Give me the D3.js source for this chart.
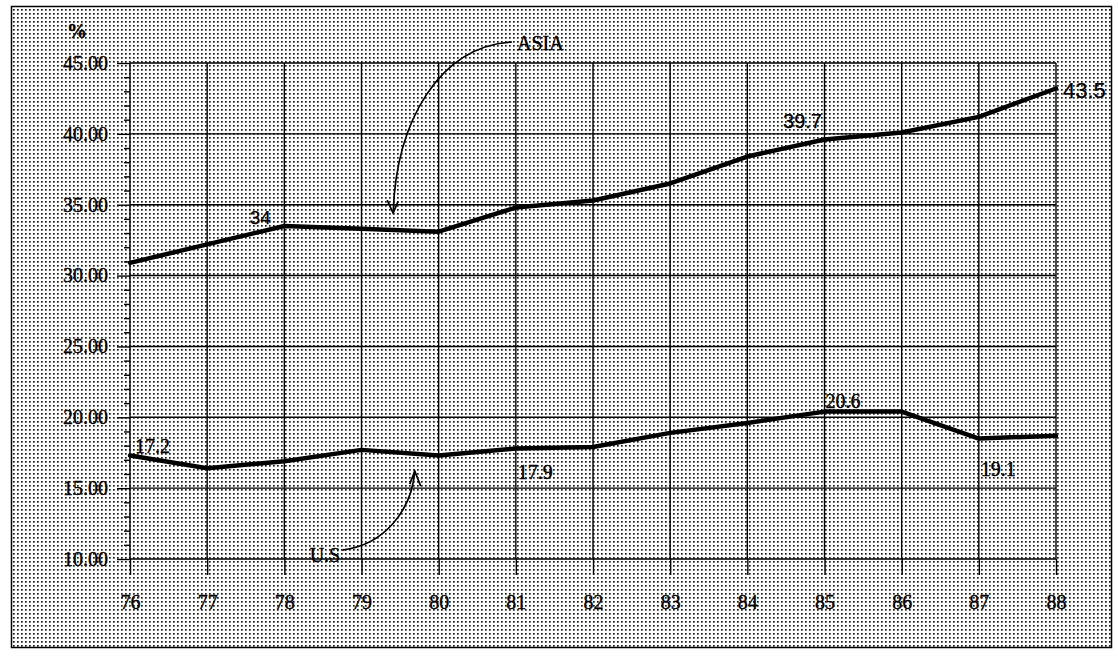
<!DOCTYPE html>
<meta charset="utf-8" />
<style>
  body {
    margin: 0;
    background: #fff;
  }
  svg {
    display: block;
  }
  .grid line {
    stroke: #000;
    stroke-width: 1.4;
  }
  .axis path {
    display: none;
  }
  .axis line {
    stroke: #000;
    stroke-width: 1.4;
  }
  .axis text,
  .serif {
    font-family: "Liberation Serif", "Times New Roman", serif;
    font-size: 20px;
    fill: #000;
    stroke: #000;
    stroke-width: 0.35;
  }
  .sans {
    font-family: "Liberation Sans", Arial, sans-serif;
    fill: #000;
    stroke: #000;
    stroke-width: 0.25;
  }
  .series {
    fill: none;
    stroke: #000;
    stroke-width: 4.5;
    stroke-linejoin: round;
    stroke-linecap: round;
  }
  .arrow {
    fill: none;
    stroke: #000;
    stroke-width: 1.7;
  }
</style>
<body>
  <div id="chart"></div>
  <script src="https://d3js.org/d3.v7.min.js"></script>
  <script>
    // values
    const years = [76, 77, 78, 79, 80, 81, 82, 83, 84, 85, 86, 87, 88];
    const asia = [30.9, 32.2, 33.5, 33.3, 33.1, 34.8, 35.3, 36.5, 38.4, 39.6, 40.1, 41.2, 43.2];
    const us = [17.3, 16.4, 16.9, 17.7, 17.3, 17.8, 17.9, 18.9, 19.6, 20.4, 20.4, 18.5, 18.7];

    const yTicks = [10, 15, 20, 25, 30, 35, 40, 45];
    const yTickLabels = ["10.00", "15.00", "20.00", "25.00", "30.00", "35.00", "40.00", "45.00"];

    const asiaLabelYears = [78, 85, 88];
    const asiaLabelTexts = ["34", "39.7", "43.5"];
    const usLabelYears = [76, 81, 85, 87];
    const usLabelTexts = ["17.2", "17.9", "20.6", "19.1"];

    const width = 1118;
    const height = 657;

    const svg = d3
      .select("#chart")
      .append("svg")
      .attr("width", width)
      .attr("height", height);

    // halftone dot screen of the scan
    const pattern = svg
      .append("defs")
      .append("pattern")
      .attr("id", "dots")
      .attr("patternUnits", "userSpaceOnUse")
      .attr("width", 4)
      .attr("height", 4);
    pattern
      .append("rect")
      .attr("x", 1)
      .attr("y", 1)
      .attr("width", 1.7)
      .attr("height", 1.7)
      .attr("fill", "#1a1a1a");

    svg
      .append("rect")
      .attr("x", 11.5)
      .attr("y", 6.5)
      .attr("width", 1100)
      .attr("height", 641)
      .attr("fill", "url(#dots)")
      .attr("stroke", "#000")
      .attr("stroke-width", 1.5);

    const x = d3.scaleLinear().domain([76, 88]).range([130, 1056]);
    const y = d3.scaleLinear().domain([10, 45]).range([559, 63]);

    // grid
    const grid = svg.append("g").attr("class", "grid");
    grid
      .selectAll(".h")
      .data(yTicks)
      .enter()
      .append("line")
      .attr("x1", x(76))
      .attr("x2", x(88))
      .attr("y1", (d) => y(d))
      .attr("y2", (d) => y(d));
    grid
      .selectAll(".v")
      .data(years)
      .enter()
      .append("line")
      .attr("x1", (d) => x(d))
      .attr("x2", (d) => x(d))
      .attr("y1", y(45))
      .attr("y2", y(10))
      .attr("stroke-width", (d) => (d === 76 ? 2 : 1.4));

    // y axis: major ticks with labels, minor ticks every unit
    svg
      .append("g")
      .attr("class", "axis")
      .attr("transform", `translate(${x(76)},0)`)
      .call(
        d3
          .axisLeft(y)
          .tickValues(yTicks)
          .tickSize(13)
          .tickPadding(9)
          .tickFormat((d, i) => yTickLabels[i])
      );
    svg
      .append("g")
      .attr("class", "axis")
      .attr("transform", `translate(${x(76)},0)`)
      .call(
        d3
          .axisLeft(y)
          .tickValues(d3.range(10, 46).filter((d) => d % 5 !== 0))
          .tickSize(6)
          .tickFormat("")
      );

    // x axis
    svg
      .append("g")
      .attr("class", "axis")
      .attr("transform", `translate(0,${y(10)})`)
      .call(
        d3
          .axisBottom(x)
          .tickValues(years)
          .tickSize(16)
          .tickPadding(20)
          .tickFormat((d) => d)
      );

    svg
      .append("text")
      .attr("class", "serif")
      .attr("x", x(76) - 53)
      .attr("y", y(45) - 25)
      .attr("text-anchor", "middle")
      .style("font-size", "20px")
      .style("font-weight", "bold")
      .text("%");

    // series
    const line = d3
      .line()
      .x((d, i) => x(years[i]))
      .y((d) => y(d));

    svg.append("path").datum(asia).attr("class", "series").attr("d", line);
    svg.append("path").datum(us).attr("class", "series").attr("d", line);

    // value labels
    const asiaOffsets = [
      { dx: -24, dy: -2, size: 19, anchor: "middle" },
      { dx: -22, dy: -12, size: 20, anchor: "middle" },
      { dx: 7, dy: 9, size: 22, anchor: "start" },
    ];
    asiaLabelYears.forEach((yr, i) => {
      const v = asia[years.indexOf(yr)];
      svg
        .append("text")
        .attr("class", "sans")
        .attr("x", x(yr) + asiaOffsets[i].dx)
        .attr("y", y(v) + asiaOffsets[i].dy)
        .attr("text-anchor", asiaOffsets[i].anchor)
        .style("font-size", asiaOffsets[i].size + "px")
        .text(asiaLabelTexts[i]);
    });

    const usOffsets = [
      { dx: 5, dy: -3 },
      { dx: 2, dy: 31 },
      { dx: 1, dy: -4 },
      { dx: 2, dy: 37 },
    ];
    usLabelYears.forEach((yr, i) => {
      const v = us[years.indexOf(yr)];
      svg
        .append("text")
        .attr("class", "serif")
        .attr("x", x(yr) + usOffsets[i].dx)
        .attr("y", y(v) + usOffsets[i].dy)
        .text(usLabelTexts[i]);
    });

    // hand drawn pointer arrows
    const drawPointer = (from, c1, c2, to, head) => {
      const p = d3.path();
      p.moveTo(x(from[0]), y(from[1]));
      p.bezierCurveTo(x(c1[0]), y(c1[1]), x(c2[0]), y(c2[1]), x(to[0]), y(to[1]));
      svg.append("path").attr("class", "arrow").attr("d", p.toString());
      const tx = x(to[0]);
      const ty = y(to[1]);
      svg
        .append("path")
        .attr("class", "arrow")
        .attr(
          "d",
          `M${tx + head[0][0]},${ty + head[0][1]}L${tx},${ty}L${tx + head[1][0]},${ty + head[1][1]}`
        );
    };

    drawPointer(
      [80.95, 46.48],
      [80.02, 46.2],
      [79.45, 40.98],
      [79.41, 34.41],
      [
        [-6, -13],
        [5, -12],
      ]
    );
    svg
      .append("text")
      .attr("class", "serif")
      .attr("x", x(80.95) + 5)
      .attr("y", y(46.48) + 8)
      .text("ASIA");

    drawPointer(
      [78.75, 10.63],
      [79.3, 10.99],
      [79.65, 13.46],
      [79.69, 16.2],
      [
        [-5, 13],
        [6, 15],
      ]
    );
    svg
      .append("text")
      .attr("class", "serif")
      .attr("x", x(78.75) - 2)
      .attr("y", y(10.63) + 12)
      .attr("text-anchor", "end")
      .text("U.S");
  </script>
</body>
